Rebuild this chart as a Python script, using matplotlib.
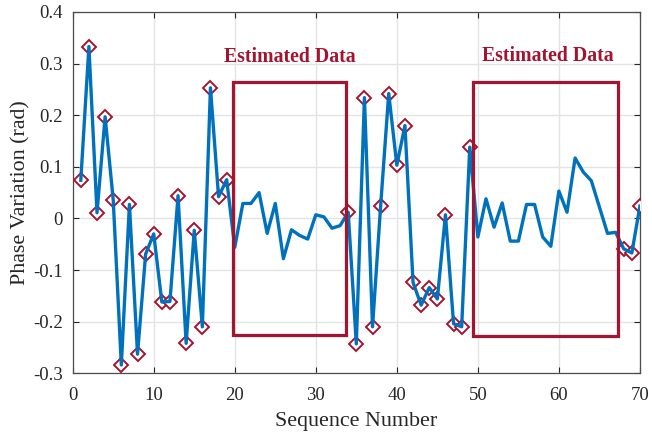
import matplotlib
matplotlib.use("Agg")
import matplotlib.pyplot as plt
from matplotlib.patches import Rectangle

# sequence numbers and phase variation (rad)
seq = list(range(1, 71))
phase = [0.074, 0.333, 0.011, 0.197, 0.036, -0.284, 0.027, -0.263, -0.069, -0.030,
         -0.162, -0.161, 0.044, -0.242, -0.023, -0.210, 0.253, 0.042, 0.075, -0.056,
         0.029, 0.029, 0.050, -0.029, 0.029, -0.078, -0.022, -0.033, -0.040, 0.007,
         0.003, -0.019, -0.014, 0.012, -0.243, 0.234, -0.210, 0.024, 0.242, 0.103,
         0.180, -0.124, -0.168, -0.134, -0.156, 0.007, -0.204, -0.210, 0.138, -0.036,
         0.038, -0.017, 0.030, -0.044, -0.044, 0.027, 0.027, -0.036, -0.054, 0.053,
         0.012, 0.117, 0.090, 0.073, 0.022, -0.029, -0.027, -0.059, -0.067, 0.024]

# measured (non-estimated) sequence numbers get markers
measured = list(range(1, 20)) + list(range(34, 50)) + [68, 69, 70]

# estimated regions: (x start, x end, y low, y high)
est_boxes = [(19.75, 33.75, -0.226, 0.265), (49.35, 67.35, -0.227, 0.265)]
est_label = "Estimated Data"
label_pos = [(26.8, 0.312), (58.6, 0.314)]

blue = "#0072BD"
red = "#A2142F"

plt.rcParams["font.family"] = ["Liberation Serif", "DejaVu Serif"]
plt.rcParams["axes.unicode_minus"] = False

fig = plt.figure(figsize=(6.52, 4.34), dpi=100)
ax = fig.add_axes([0.1115, 0.14, 0.87, 0.8324])

mx = [s for s in measured]
my = [phase[s - 1] for s in measured]
ax.plot(mx, my, linestyle="none", marker="D", markersize=7, markerfacecolor="white",
        markeredgecolor=red, markeredgewidth=1.4, zorder=3)
ax.plot(seq, phase, color=blue, linewidth=2.4, zorder=4)

for (x0, x1, y0, y1) in est_boxes:
    ax.add_patch(Rectangle((x0, y0), x1 - x0, y1 - y0, fill=False,
                           edgecolor=red, linewidth=2.3, zorder=5))
for (lx, ly) in label_pos:
    ax.text(lx, ly, est_label, color=red, fontsize=14.2, fontweight="bold",
            ha="center", va="center")

ax.set_xlim(0, 70)
ax.set_ylim(-0.3, 0.4)
ax.set_xticks(range(0, 71, 10))
ax.set_yticks([-0.3, -0.2, -0.1, 0, 0.1, 0.2, 0.3, 0.4])
ax.set_yticklabels(["-0.3", "-0.2", "-0.1", "0", "0.1", "0.2", "0.3", "0.4"])
ax.grid(True, color="#e3e3e3", linewidth=1.0)
ax.set_axisbelow(True)
ax.tick_params(direction="in", top=True, right=True, labelsize=13.5,
               colors="#262626", length=4, width=0.8)
ax.tick_params(axis="x", pad=10)
ax.tick_params(axis="y", pad=7)
for sp in ax.spines.values():
    sp.set_color("#4d4d4d")
    sp.set_linewidth(0.9)

ax.set_xlabel("Sequence Number", fontsize=15.8, color="#262626", labelpad=6)
ax.set_ylabel("Phase Variation (rad)", fontsize=15.8, color="#262626", labelpad=2)

fig.savefig("out.png", dpi=100)
